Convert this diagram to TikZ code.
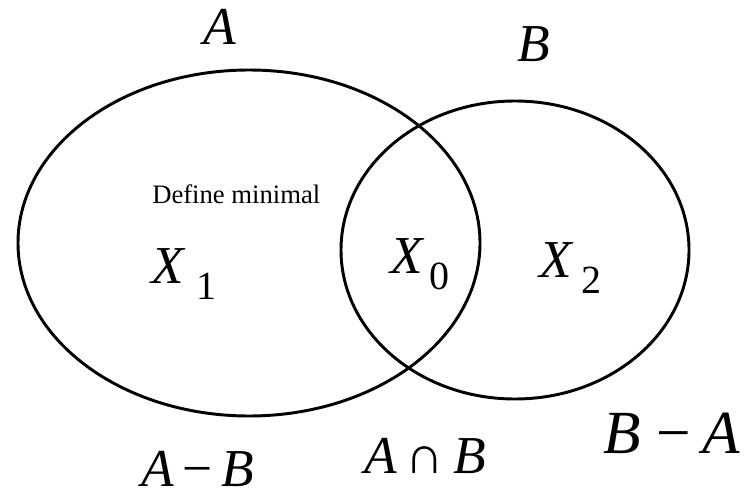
\documentclass[tikz,border=0pt]{standalone}
\usepackage{fontspec}
\setmainfont{Liberation Serif}
\usetikzlibrary{positioning}

\newcommand{\setname}[1]{\textit{#1}}
\newcommand{\partsub}[3]{\textit{#1}\hspace{#3}\raisebox{-12.5pt}{\fontsize{30}{32}\selectfont #2}}

\begin{document}
\begin{tikzpicture}[x=0.75pt, y=-0.75pt,
		setlabel/.style={anchor=base west, inner sep=0pt, font=\fontsize{40}{44}\selectfont},
		notelabel/.style={anchor=base west, inner sep=0pt, font=\fontsize{20}{22}\selectfont},
		setline/.style={line width=2.2pt}]
		\useasboundingbox (0,0) rectangle (745,499);
		
		\coordinate (CA) at (249,243);
		\coordinate (CB) at (515,250);
		
		\draw[setline] (CA) ellipse [x radius=231, y radius=173];
		\draw[setline] (CB) ellipse [x radius=174, y radius=149];
		
		% set names
		\node[setlabel] (nameA) at (203,45) {\setname{A}};
		\node[setlabel] (nameB) at (517,62) {\setname{B}};
		
		% parts
		\node[notelabel] (note) at (152,203) {Define minimal};
		\node[setlabel] (X1) at (151,283) {\partsub{X}{1}{0.2em}};
		\node[setlabel] (X0) at (390,273) {\partsub{X}{0}{0.1em}};
		\node[setlabel] (X2) at (539,277) {\partsub{X}{2}{0.15em}};
		
		% regions
		\node[setlabel] (AminusB) at (141,486) {\setname{A}\,−\,\setname{B}};
		\node[setlabel] (AcapB) at (364,473) {\setname{A}\,∩\,\setname{B}};
		\node[setlabel, font=\fontsize{46}{50}\selectfont] (BminusA) at (603,453) {\setname{B}\hspace{0.25em}−\hspace{0.2em}\setname{A}};
\end{tikzpicture}
\end{document}
